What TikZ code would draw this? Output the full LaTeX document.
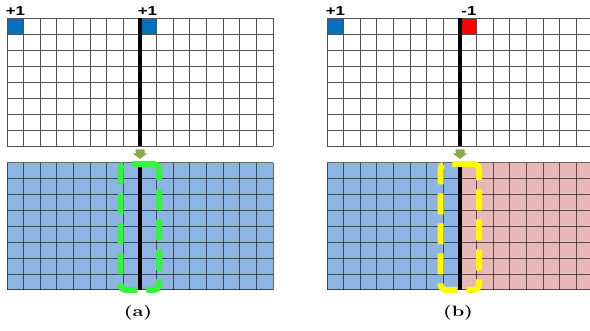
\documentclass[tikz,border=0pt]{standalone}
\usepackage{fontspec}
\usepackage{graphicx}
\newfontfamily\labfont{Liberation Sans}
\definecolor{cellblue}{RGB}{0,112,192}
\definecolor{cellred}{RGB}{255,0,0}
\definecolor{fillblue}{RGB}{142,180,227}
\definecolor{fillpink}{RGB}{230,185,184}
\definecolor{dashgreen}{RGB}{50,245,60}
\definecolor{dashyellow}{RGB}{255,250,0}
\definecolor{arrowgreen}{RGB}{137,172,74}
\tikzset{
  topgrid/.style={draw=black!68, line width=0.9pt},
  botgrid/.style={draw=black, draw opacity=0.6, line width=1pt},
  barline/.style={draw=black, line width=4pt},
  valuelabel/.style={inner sep=0pt, font=\labfont\bfseries\fontsize{13}{13}\selectfont},
  caption/.style={inner sep=0pt, font=\bfseries\fontsize{15}{15}\selectfont},
  dashbox/.style={line width=6pt, rounded corners=5pt, dash pattern=on 21pt off 9pt},
  downarrow/.style={fill=arrowgreen, draw=none}
}
\begin{document}
\begin{tikzpicture}[x=1pt,y=-1pt]
\useasboundingbox (0,0) rectangle (590,331);
\clip (0,0) rectangle (590,331);

% ---------- panel (a) ----------
% top grid
\fill[cellblue] (7,18) rectangle (23.625,34);
\fill[cellblue] (140,18) rectangle (156.625,34);
\foreach \i in {0,...,16} \draw[topgrid] ({7+\i*16.625},18) -- ({7+\i*16.625},146);
\foreach \j in {0,...,8} \draw[topgrid] (7,{18+\j*16}) -- (273,{18+\j*16});
% bottom grid
\fill[fillblue] (7,163) rectangle (273,290);
\foreach \i in {0,...,16} \draw[botgrid] ({7+\i*16.625},163) -- ({7+\i*16.625},290);
\foreach \j in {0,...,8} \draw[botgrid] (7,{163+\j*15.875}) -- (273,{163+\j*15.875});
% bars
\coordinate (aTopS) at (140,18);
\coordinate (aTopE) at (140,146);
\coordinate (aBotS) at (140,163);
\coordinate (aBotE) at (140,290);
\draw[barline] (aTopS) -- (aTopE);
\draw[barline] (aBotS) -- (aBotE);
% arrow
\path[downarrow] (135.5,149.5) -- (144.5,149.5) -- (144.5,153.3) -- (147.5,153.3) -- (140,159) -- (132.5,153.3) -- (135.5,153.3) -- cycle;
% dashed box
\draw[dashbox, draw=dashgreen] (147,164) -- (159,164) -- (159,290) -- (120.5,290) -- (120.5,164) -- cycle;
% labels
\node[valuelabel] (aL1) at (15.5,11) {\scalebox{1.3}[1]{+1}};
\node[valuelabel] (aL2) at (147.5,11) {\scalebox{1.3}[1]{+1}};
\node[caption] (capA) at (138,312.5) {\scalebox{1.33}[1]{(a)}};

% ---------- panel (b) ----------
\fill[cellblue] (327,18) rectangle (343.625,34);
\fill[cellred] (460,18) rectangle (476.625,34);
\foreach \i in {0,...,16} \draw[topgrid] ({327+\i*16.625},18) -- ({327+\i*16.625},146);
\foreach \j in {0,...,8} \draw[topgrid] (327,{18+\j*16}) -- (593,{18+\j*16});
\fill[fillblue] (327,163) rectangle (460,290);
\fill[fillpink] (460,163) rectangle (593,290);
\foreach \i in {0,...,16} \draw[botgrid] ({327+\i*16.625},163) -- ({327+\i*16.625},290);
\foreach \j in {0,...,8} \draw[botgrid] (327,{163+\j*15.875}) -- (593,{163+\j*15.875});
\coordinate (bTopS) at (460,18);
\coordinate (bTopE) at (460,146);
\coordinate (bBotS) at (460,163);
\coordinate (bBotE) at (460,290);
\draw[barline] (bTopS) -- (bTopE);
\draw[barline] (bBotS) -- (bBotE);
\path[downarrow] (455.5,149.5) -- (464.5,149.5) -- (464.5,153.3) -- (467.5,153.3) -- (460,159) -- (452.5,153.3) -- (455.5,153.3) -- cycle;
\draw[dashbox, draw=dashyellow] (467,164) -- (479,164) -- (479,290) -- (440.5,290) -- (440.5,164) -- cycle;
\node[valuelabel] (bL1) at (335.5,11) {\scalebox{1.3}[1]{+1}};
\node[valuelabel] (bL2) at (469,11) {\scalebox{1.3}[1]{-1}};
\node[caption] (capB) at (458,312.5) {\scalebox{1.33}[1]{(b)}};
\end{tikzpicture}
\end{document}
